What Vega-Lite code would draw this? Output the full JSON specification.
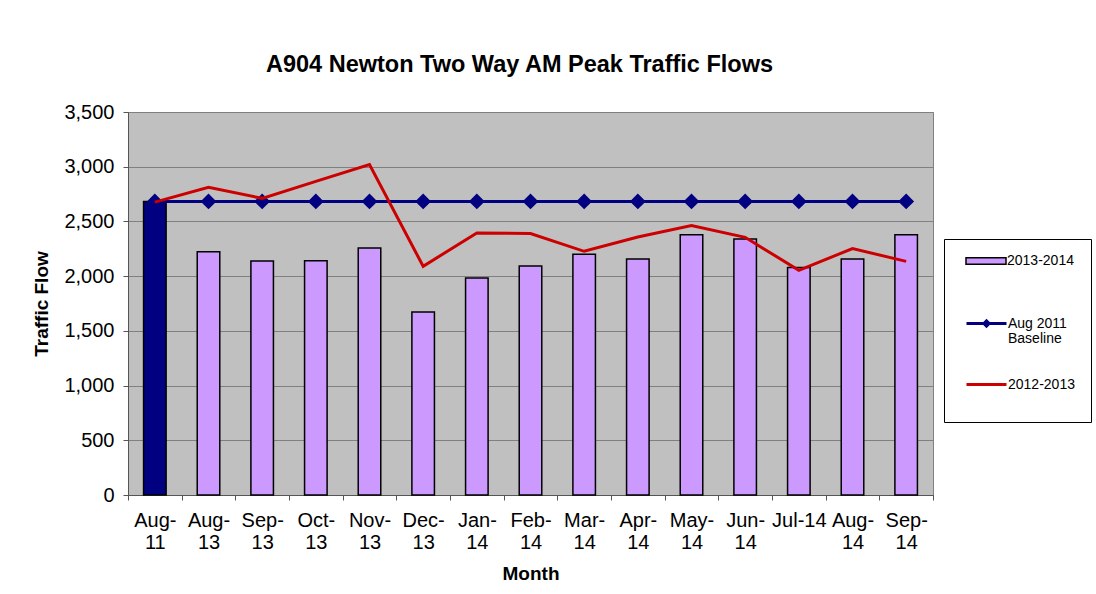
{
  "$schema": "https://vega.github.io/schema/vega-lite/v6.json",
  "width": 805,
  "height": 383,
  "autosize": {"type": "none"},
  "padding": {"left": 128, "top": 112, "right": 163, "bottom": 99},
  "background": "white",
  "title": {
    "text": "A904 Newton Two Way AM Peak Traffic Flows",
    "font": "Liberation Sans",
    "fontSize": 23.5,
    "fontWeight": "bold",
    "color": "black",
    "anchor": "middle",
    "dx": -11,
    "offset": 26
  },
  "datasets": {
    "bars": [
      {"month": "Aug-11", "series": "Aug 2011 Baseline", "value": 2683},
      {"month": "Aug-13", "series": "2013-2014", "value": 2224},
      {"month": "Sep-13", "series": "2013-2014", "value": 2139},
      {"month": "Oct-13", "series": "2013-2014", "value": 2140},
      {"month": "Nov-13", "series": "2013-2014", "value": 2258},
      {"month": "Dec-13", "series": "2013-2014", "value": 1673},
      {"month": "Jan-14", "series": "2013-2014", "value": 1984},
      {"month": "Feb-14", "series": "2013-2014", "value": 2093},
      {"month": "Mar-14", "series": "2013-2014", "value": 2199},
      {"month": "Apr-14", "series": "2013-2014", "value": 2157},
      {"month": "May-14", "series": "2013-2014", "value": 2379},
      {"month": "Jun-14", "series": "2013-2014", "value": 2340},
      {"month": "Jul-14", "series": "2013-2014", "value": 2078},
      {"month": "Aug-14", "series": "2013-2014", "value": 2157},
      {"month": "Sep-14", "series": "2013-2014", "value": 2379}
    ],
    "baseline": [
      {"month": "Aug-11", "series": "Aug 2011 Baseline", "value": 2683},
      {"month": "Aug-13", "series": "Aug 2011 Baseline", "value": 2683},
      {"month": "Sep-13", "series": "Aug 2011 Baseline", "value": 2683},
      {"month": "Oct-13", "series": "Aug 2011 Baseline", "value": 2683},
      {"month": "Nov-13", "series": "Aug 2011 Baseline", "value": 2683},
      {"month": "Dec-13", "series": "Aug 2011 Baseline", "value": 2683},
      {"month": "Jan-14", "series": "Aug 2011 Baseline", "value": 2683},
      {"month": "Feb-14", "series": "Aug 2011 Baseline", "value": 2683},
      {"month": "Mar-14", "series": "Aug 2011 Baseline", "value": 2683},
      {"month": "Apr-14", "series": "Aug 2011 Baseline", "value": 2683},
      {"month": "May-14", "series": "Aug 2011 Baseline", "value": 2683},
      {"month": "Jun-14", "series": "Aug 2011 Baseline", "value": 2683},
      {"month": "Jul-14", "series": "Aug 2011 Baseline", "value": 2683},
      {"month": "Aug-14", "series": "Aug 2011 Baseline", "value": 2683},
      {"month": "Sep-14", "series": "Aug 2011 Baseline", "value": 2683}
    ],
    "prior": [
      {"month": "Aug-11", "series": "2012-2013", "value": 2676},
      {"month": "Aug-13", "series": "2012-2013", "value": 2812},
      {"month": "Sep-13", "series": "2012-2013", "value": 2711},
      {"month": "Oct-13", "series": "2012-2013", "value": 2866},
      {"month": "Nov-13", "series": "2012-2013", "value": 3019},
      {"month": "Dec-13", "series": "2012-2013", "value": 2090},
      {"month": "Jan-14", "series": "2012-2013", "value": 2395},
      {"month": "Feb-14", "series": "2012-2013", "value": 2389},
      {"month": "Mar-14", "series": "2012-2013", "value": 2227},
      {"month": "Apr-14", "series": "2012-2013", "value": 2358},
      {"month": "May-14", "series": "2012-2013", "value": 2462},
      {"month": "Jun-14", "series": "2012-2013", "value": 2355},
      {"month": "Jul-14", "series": "2012-2013", "value": 2053},
      {"month": "Aug-14", "series": "2012-2013", "value": 2252},
      {"month": "Sep-14", "series": "2012-2013", "value": 2135}
    ]
  },
  "encoding": {
    "x": {
      "field": "month",
      "type": "nominal",
      "sort": ["Aug-11","Aug-13","Sep-13","Oct-13","Nov-13","Dec-13","Jan-14","Feb-14","Mar-14","Apr-14","May-14","Jun-14","Jul-14","Aug-14","Sep-14"],
      "scale": {"paddingInner": 0, "paddingOuter": 0},
      "axis": {
        "title": "Month",
        "labelAngle": 0,
        "labelExpr": "(!datum.label || datum.label == 'Jul-14') ? datum.label : [split(datum.label, '-')[0] + '-', split(datum.label, '-')[1]]",
        "labelLineHeight": 22,
        "labelBaseline": "top",
        "labelPadding": 10,
        "tickBand": "extent",
        "tickSize": 5,
        "titlePadding": 12
      }
    },
    "y": {
      "field": "value",
      "type": "quantitative",
      "scale": {"domain": [0, 3500]},
      "axis": {
        "title": "Traffic Flow",
        "values": [0, 500, 1000, 1500, 2000, 2500, 3000, 3500],
        "format": ",.0f",
        "tickSize": 5,
        "labelPadding": 9,
        "titlePadding": 12
      }
    }
  },
  "layer": [
    {
      "data": {"name": "bars"},
      "mark": {"type": "bar", "width": {"band": 0.42}, "stroke": "black", "strokeWidth": 1.5, "opacity": 1},
      "encoding": {
        "fill": {
          "field": "series",
          "type": "nominal",
          "scale": {"domain": ["2013-2014", "Aug 2011 Baseline"], "range": ["#CC99FF", "#000080"]},
          "legend": {
            "title": null,
            "orient": "none",
            "legendX": 816,
            "legendY": 112,
            "values": ["2013-2014"],
            "strokeColor": "transparent",
            "fillColor": "transparent",
            "symbolType": "M-0.75,-0.3M-0.75,0.75M-0.75,-0.16H1.25V0.16H-0.75Z",
            "symbolStrokeColor": "black",
            "symbolStrokeWidth": 1.5,
            "symbolFillColor": "#CC99FF"
          }
        }
      }
    },
    {
      "data": {"name": "baseline"},
      "mark": {"type": "line", "strokeWidth": 3, "point": {"shape": "diamond", "size": 170, "filled": true, "color": "#000080", "opacity": 1}},
      "encoding": {
        "stroke": {
          "field": "series",
          "type": "nominal",
          "scale": {"domain": ["Aug 2011 Baseline", "2012-2013"], "range": ["#000080", "#CC0000"]},
          "legend": {
            "title": " ",
            "titleFontSize": 14,
            "titlePadding": 33,
            "orient": "none",
            "legendX": 816,
            "legendY": 127,
            "strokeColor": "black",
            "fillColor": "transparent",
            "rowPadding": 13,
            "labelExpr": "datum.label == 'Aug 2011 Baseline' ? ['Aug 2011', 'Baseline'] : datum.label",
            "encode": {
              "labels": {"update": {"lineHeight": {"value": 15}}},
              "symbols": {
                "update": {
                  "shape": {"signal": "datum.value === 'Aug 2011 Baseline' ? 'M-0.75,-0.3M-0.75,1.0M-0.75,0H1.25M0.12,0L0.25,-0.13L0.38,0L0.25,0.13Z' : 'M-0.75,-0.3M-0.75,0.75M-0.75,0H1.25'"},
                  "fill": {"signal": "datum.value === 'Aug 2011 Baseline' ? '#000080' : 'transparent'"},
                  "strokeWidth": {"value": 3},
                  "opacity": {"value": 1},
                  "fillOpacity": {"value": 1},
                  "strokeOpacity": {"value": 1}
                }
              }
            }
          }
        }
      }
    },
    {
      "data": {"name": "prior"},
      "mark": {"type": "line", "strokeWidth": 3},
      "encoding": {
        "stroke": {"field": "series", "type": "nominal"}
      }
    }
  ],
  "config": {
    "font": "Liberation Sans",
    "view": {"fill": "#C0C0C0", "stroke": "#808080", "strokeWidth": 1},
    "axis": {
      "labelFont": "Liberation Sans",
      "labelFontSize": 20,
      "labelColor": "black",
      "titleFont": "Liberation Sans",
      "titleFontSize": 19,
      "titleFontWeight": "bold",
      "titleColor": "black",
      "domainColor": "#555555",
      "tickColor": "#555555",
      "gridColor": "#808080",
      "gridWidth": 1
    },
    "axisX": {"grid": false},
    "axisY": {"grid": true},
    "legend": {
      "padding": 16,
      "labelFont": "Liberation Sans",
      "labelFontSize": 14,
      "labelColor": "black",
      "labelOffset": 5,
      "labelLimit": 200,
      "symbolSize": 1600
    }
  }
}
